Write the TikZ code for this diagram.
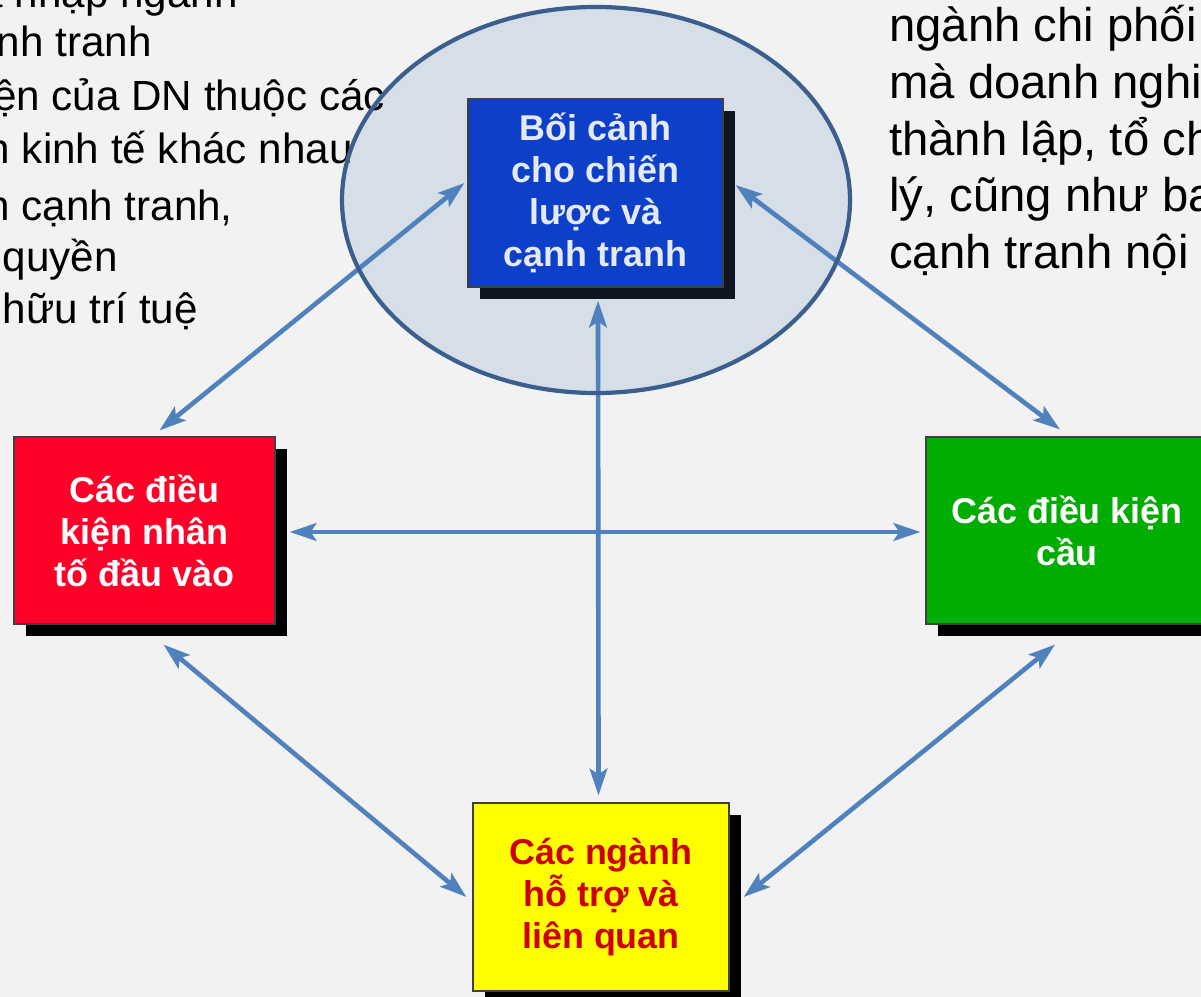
\documentclass[tikz,border=0pt]{standalone}
\usepackage{fontspec}
\setmainfont{Liberation Sans}
\usetikzlibrary{positioning}
\usetikzlibrary{arrows.meta}
\usetikzlibrary{shadows}
\definecolor{pagegrey}{HTML}{F2F2F2}
\definecolor{halofill}{HTML}{D6DEE8}
\definecolor{haloline}{HTML}{3A5F8E}
\definecolor{linkblue}{HTML}{4F81BD}
\definecolor{ctxblue}{HTML}{0D3FC8}
\definecolor{ctxtext}{HTML}{E4E9F6}
\definecolor{ctxshadow}{HTML}{0F1521}
\definecolor{inred}{HTML}{FF0028}
\definecolor{dgreen}{HTML}{00AD00}
\definecolor{relyellow}{HTML}{FFFF00}
\definecolor{reltext}{HTML}{CC0000}
\tikzset{factor/.style = {draw=black!75, line width=0.8pt, align=center, inner sep=0,
    font=\fontsize{25.5}{29.8}\selectfont\bfseries,
    drop shadow={shadow xshift=0.29cm, shadow yshift=-0.29cm, fill=#1, opacity=1}},
  factor/.default = black}
\tikzset{link/.style = {linkblue, line width=3.3pt,
    {Stealth[length=19pt, width=12.5pt, inset=4pt]}-{Stealth[length=19pt, width=12.5pt, inset=4pt]}}}
\tikzset{leftnote/.style = {anchor=base east, inner sep=0, font=\fontsize{30}{36}\selectfont}}
\tikzset{rightnote/.style = {anchor=base west, inner sep=0, font=\fontsize{33.6}{40}\selectfont}}

\begin{document}
\begin{tikzpicture}[x=0.025cm, y=-0.025cm]
      \useasboundingbox (0, 0) rectangle (1201, 997);
      \fill [pagegrey] (0, 0) rectangle (1201, 997);
      \clip (0, 0) rectangle (1201, 997);
      \fill [halofill] (596, 200) ellipse [x radius = 254, y radius = 193];
      % side notes, cut by the page edge
      \node [leftnote] (ln1) at (238, 8) {a nhập ngành};
      \node [leftnote] (ln2) at (152, 57) {nh tranh};
      \node [leftnote] (ln3) at (385, 111) {ện của DN thuộc các};
      \node [leftnote] (ln4) at (353, 164) {n kinh tế khác nhau};
      \node [leftnote] (ln5) at (233, 221) {n cạnh tranh,};
      \node [leftnote] (ln6) at (118, 272) {quyền};
      \node [leftnote] (ln7) at (198, 323) {hữu trí tuệ};
      \node [rightnote] (rn1) at (889, 42) {ngành chi phối};
      \node [rightnote] (rn2) at (889, 99) {mà doanh nghi};
      \node [rightnote] (rn3) at (889, 156) {thành lập, tổ ch};
      \node [rightnote] (rn4) at (889, 212) {lý, cũng như ba};
      \node [rightnote] (rn5) at (889, 269) {cạnh tranh nội};
      % the four factors
      \node [factor=ctxshadow, fill=ctxblue, text=ctxtext, minimum width=6.375cm,
        minimum height=4.7cm] (ctx) at (595.5, 193)
        {Bối cảnh\\cho chiến\\lược và\\cạnh tranh};
      \node [factor, fill=inred, text=white, minimum width=6.525cm,
        minimum height=4.675cm] (inputs) at (144.5, 530.5)
        {Các điều\\kiện nhân\\tố đầu vào};
      \node [factor, fill=dgreen, text=white, minimum width=7.05cm,
        minimum height=4.675cm] (demand) at (1067, 530.5)
        {Các điều kiện\\cầu};
      \node [factor, fill=relyellow, text=reltext, minimum width=6.4cm,
        minimum height=4.7cm] (related) at (601, 897)
        {Các ngành\\hỗ trợ và\\liên quan};
      % links between factors
      \draw [link] ([shift={(15, -6)}] inputs.north) -- ([shift={(-3, -10)}] ctx.west);
      \draw [link] ([shift={(12, -8)}] ctx.east) -- ([shift={(-7, -7)}] demand.north);
      \draw [link] ([shift={(2.5, 13)}] ctx.south) -- ([shift={(-2.5, -7)}] related.north);
      \draw [link] ([shift={(14, 1.5)}] inputs.east) -- ([shift={(-5, 1.5)}] demand.west);
      \draw [link] ([shift={(19, 20)}] inputs.south) -- ([shift={(-6, 0)}] related.west);
      \draw [link] ([shift={(-12, 20)}] demand.south) -- ([shift={(14, 0)}] related.east);
      \draw [haloline, line width=3pt] (596, 200) ellipse [x radius = 254, y radius = 193];
    \end{tikzpicture}
\end{document}
